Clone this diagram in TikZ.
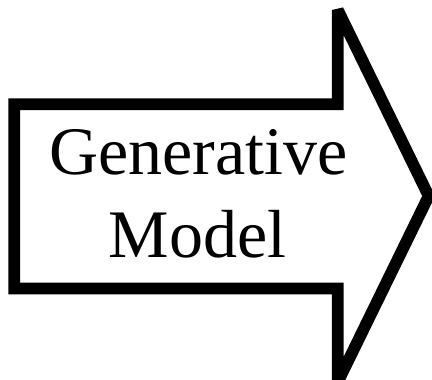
\documentclass[tikz,border=0pt]{standalone}
\usepackage{fontspec}
\setmainfont{Liberation Serif}
\usetikzlibrary{positioning}

\begin{document}
\begin{tikzpicture}[x=1pt,y=1pt]
            \tikzstyle{every node}+=[inner sep=0pt]
            \tikzstyle{arrowline}=[black, line width=11.7pt, line join=miter, miter limit=3]
            \tikzstyle{bigtext}=[font=\fontsize{68}{83}\selectfont, anchor=base]
            \useasboundingbox (0,0) rectangle (432,380);
            \clip (0,0) rectangle (432,380);
            % block arrow outline
            \draw [arrowline] (337.8,275.8) -- (14.2,275.8) -- (14.2,91.5) -- (337.8,91.5)
                -- (337.8,-2) -- (428.7,184) -- (337.8,370) -- cycle;
            % label
            \node [bigtext] (gen) at (198.5,205) {Generative};
            \node [bigtext] (model) at ([xshift=-1pt,yshift=-83pt]gen.base) {Model};
        \end{tikzpicture}
\end{document}
